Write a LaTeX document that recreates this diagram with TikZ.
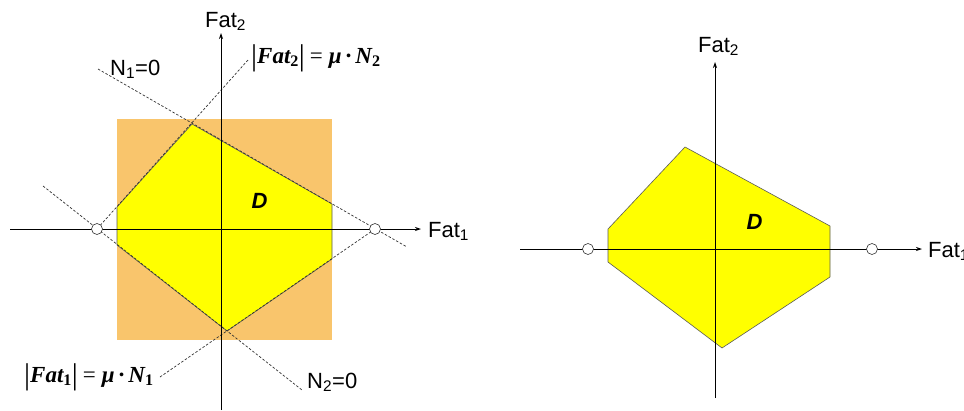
\documentclass[tikz,border=0pt]{standalone}
\usepackage{fontspec}
\setmainfont{Liberation Sans}
\newfontfamily\timesfont{Liberation Serif}
\usetikzlibrary{arrows.meta}
\definecolor{boxorange}{RGB}{249,197,108}
\definecolor{domyellow}{RGB}{255,255,0}
\newcommand\absbar{\raisebox{-2.5pt}{\fontsize{30}{30}\selectfont\mdseries\upshape|}}
\newcommand\frlaw[1]{\absbar Fat\textsubscript{\upshape #1}\absbar\hspace{5pt}{\mdseries\upshape =}\hspace{6pt}μ\hspace{4pt}·\hspace{4pt}N\textsubscript{\upshape #1}}
\begin{document}
\begin{tikzpicture}[x=1pt,y=-1pt,
  axis/.style={black,line width=0.8pt,-{Stealth[length=6pt,width=4pt]}},
  dline/.style={black!80,line width=0.7pt,dash pattern=on 2.5pt off 1.8pt},
  dedge/.style={draw=black!65,line width=0.6pt},
  hole/.style={circle,draw=black!80,fill=white,line width=0.6pt,minimum size=11pt,inner sep=0pt},
  lbl/.style={anchor=base west,inner sep=0pt,font=\fontsize{22}{26}\selectfont},
  eqn/.style={anchor=base west,inner sep=0pt,font=\timesfont\fontsize{23}{26}\selectfont\bfseries\itshape},
  dlbl/.style={inner sep=0pt,font=\fontsize{22}{26}\selectfont\bfseries\itshape}]
\useasboundingbox (0,0) rectangle (964,410);
% left: friction square and domain D
\fill[boxorange] (117,119) rectangle (332,340);
\filldraw[fill=domyellow,dedge] (192,124) -- (332,204) -- (332,259) -- (227,331) -- (117,245) -- (117,207) -- cycle;
\coordinate (oL) at (97,229);
\coordinate (oR) at (375,229);
\coordinate (n1a) at (98,69);
\coordinate (n1b) at (407,247);
\coordinate (n2a) at (43,186);
\coordinate (n2b) at (302,390);
\coordinate (f2a) at (248,60);
\coordinate (f1a) at (160,377);
\draw[dline] (n1a) -- (n1b);
\draw[dline] (n2a) -- (n2b);
\draw[dline] (f2a) -- (oL);
\draw[dline] (f1a) -- (oR);
\coordinate (xa) at (10,229);
\coordinate (xb) at (421,229);
\coordinate (ya) at (221,410);
\coordinate (yb) at (221,33);
\draw[axis] (xa) -- (xb);
\draw[axis] (ya) -- (yb);
\node[hole] (holeL) at (oL) {};
\node[hole] (holeR) at (oR) {};
\node[lbl] (fat1L) at (428,237) {Fat\textsubscript{1}};
\node[lbl] (fat2L) at (205,27) {Fat\textsubscript{2}};
\node[lbl] (n1lbl) at (110,75) {N\textsubscript{1}=0};
\node[lbl] (n2lbl) at (307,388) {N\textsubscript{2}=0};
\node[eqn] (eq2) at (251,63) {\frlaw{2}};
\node[eqn] (eq1) at (24,382) {\frlaw{1}};
\node[dlbl] (dL) at (259.5,200.5) {D};
% right: domain D alone
\filldraw[fill=domyellow,dedge] (685,147) -- (830,226) -- (830,277) -- (722,348) -- (608,262) -- (608,229) -- cycle;
\coordinate (xc) at (520,249);
\coordinate (xd) at (922,249);
\coordinate (yc) at (715,398);
\coordinate (yd) at (715,62);
\draw[axis] (xc) -- (xd);
\draw[axis] (yc) -- (yd);
\node[hole] (holeL2) at (588,249) {};
\node[hole] (holeR2) at (872,249) {};
\node[lbl] (fat1R) at (928,257) {Fat\textsubscript{1}};
\node[lbl] (fat2R) at (698,52) {Fat\textsubscript{2}};
\node[dlbl] (dR) at (754.5,221.5) {D};
\end{tikzpicture}
\end{document}
